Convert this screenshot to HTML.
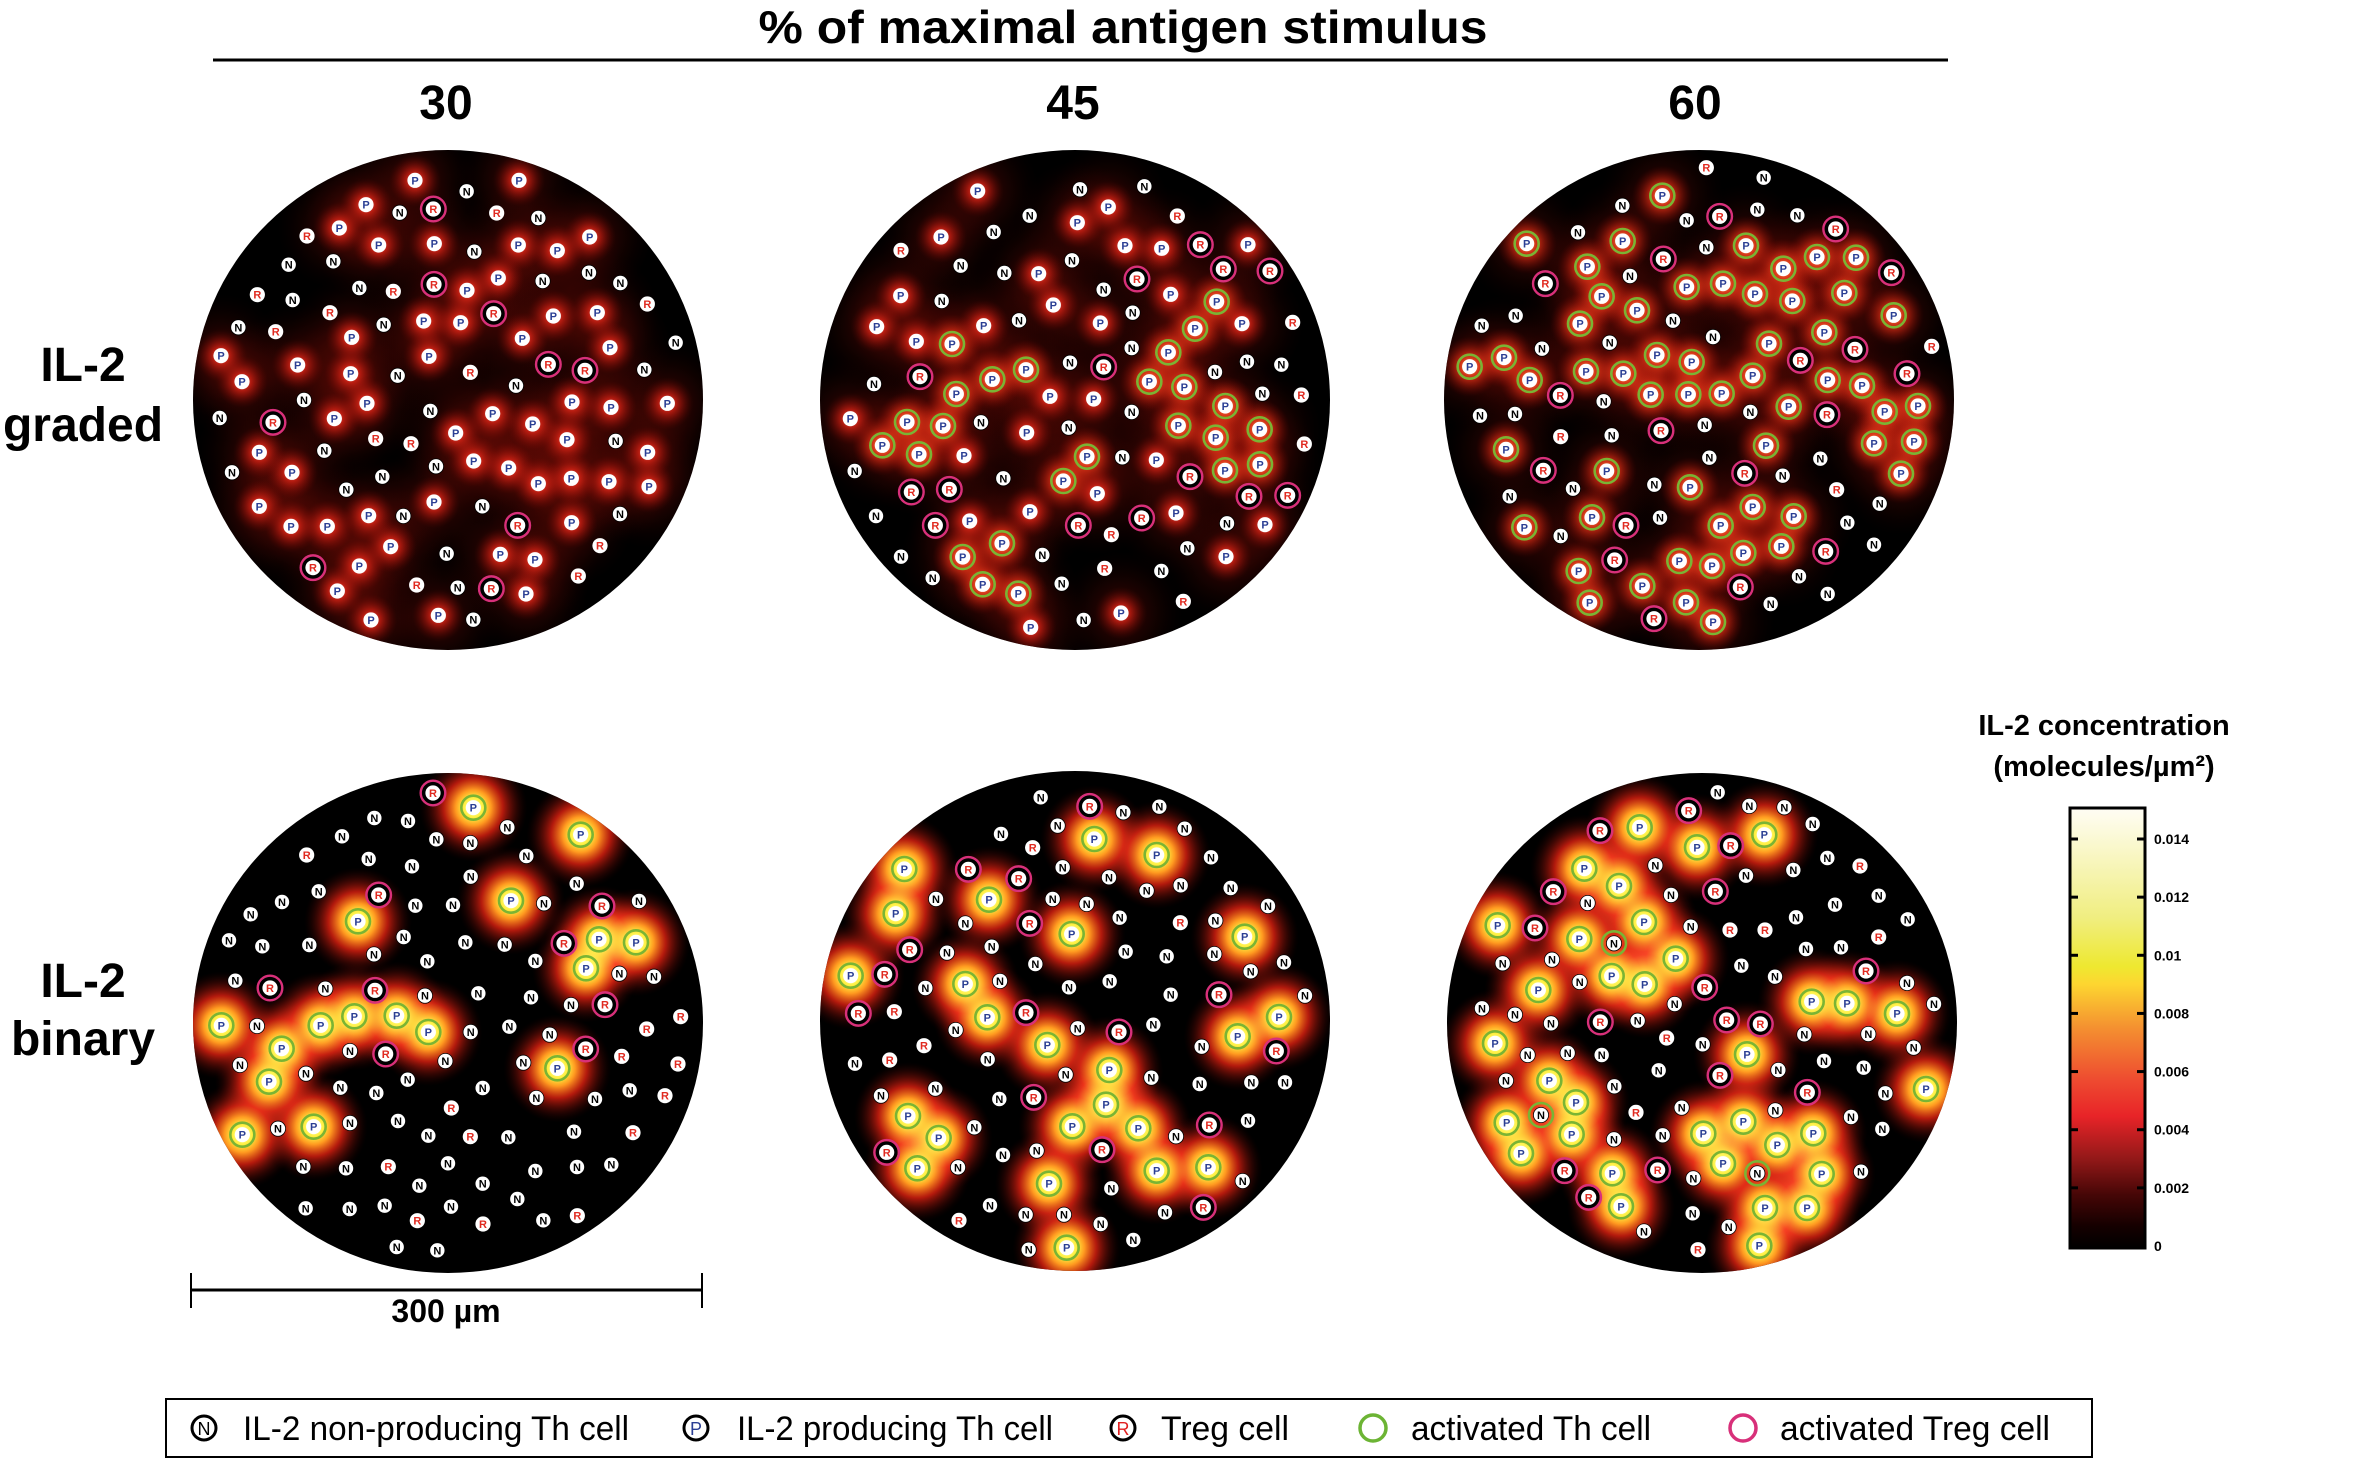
<!DOCTYPE html>
<html><head><meta charset="utf-8"><style>
html,body{margin:0;padding:0;background:#fff;}
svg{display:block;}
text{font-family:"Liberation Sans",Arial,sans-serif;}
.glow{mix-blend-mode:screen;}
</style></head><body>
<svg id="fig" xmlns="http://www.w3.org/2000/svg" width="2355" height="1459" viewBox="0 0 2355 1459">
<defs>
 <radialGradient id="gG"><stop offset="0" stop-color="#ff8070" stop-opacity="1"/><stop offset="0.35" stop-color="#d01c12" stop-opacity="0.7"/><stop offset="1" stop-color="#400000" stop-opacity="0"/></radialGradient>
 <radialGradient id="gB"><stop offset="0" stop-color="#800e06" stop-opacity="0.55"/><stop offset="1" stop-color="#200000" stop-opacity="0"/></radialGradient>
 <radialGradient id="gA"><stop offset="0" stop-color="#ffa050"/><stop offset="0.35" stop-color="#e82e14" stop-opacity="0.8"/><stop offset="1" stop-color="#500000" stop-opacity="0"/></radialGradient>
 <radialGradient id="gY"><stop offset="0" stop-color="#ffffc0"/><stop offset="0.18" stop-color="#fff040"/><stop offset="0.33" stop-color="#ff9a20"/><stop offset="0.55" stop-color="#e02010" stop-opacity="0.8"/><stop offset="1" stop-color="#300000" stop-opacity="0"/></radialGradient>
 <linearGradient id="cbar" x1="0" y1="0" x2="0" y2="1">
  <stop offset="0" stop-color="#fffdf5"/><stop offset="0.25" stop-color="#f0ee80"/><stop offset="0.36" stop-color="#eee830"/><stop offset="0.4" stop-color="#fdd630"/><stop offset="0.5" stop-color="#f49030"/><stop offset="0.62" stop-color="#ee4a30"/><stop offset="0.7" stop-color="#e82428"/><stop offset="0.8" stop-color="#901818"/><stop offset="0.88" stop-color="#450606"/><stop offset="0.95" stop-color="#150000"/><stop offset="1" stop-color="#000"/>
 </linearGradient>
</defs>
<text x="1123" y="43" font-size="46" font-weight="bold" text-anchor="middle" textLength="729" lengthAdjust="spacingAndGlyphs">% of maximal antigen stimulus</text>
<line x1="213" y1="60" x2="1948" y2="60" stroke="#000" stroke-width="3"/>
<text x="446" y="119" font-size="48" font-weight="bold" text-anchor="middle">30</text>
<text x="1073" y="119" font-size="48" font-weight="bold" text-anchor="middle">45</text>
<text x="1695" y="119" font-size="48" font-weight="bold" text-anchor="middle">60</text>
<text font-size="48" font-weight="bold" text-anchor="middle"><tspan x="83" y="381">IL-2</tspan><tspan x="83" y="441">graded</tspan></text>
<text font-size="48" font-weight="bold" text-anchor="middle"><tspan x="83" y="997">IL-2</tspan><tspan x="83" y="1055">binary</tspan></text>
<g id="panels"></g>
<g>
 <line x1="191" y1="1290" x2="702" y2="1290" stroke="#000" stroke-width="3"/>
 <line x1="191" y1="1273" x2="191" y2="1308" stroke="#000" stroke-width="2"/>
 <line x1="702" y1="1273" x2="702" y2="1308" stroke="#000" stroke-width="2"/>
 <text x="446" y="1322" font-size="32" font-weight="bold" text-anchor="middle">300 µm</text>
</g>
<g>
 <text font-size="29" font-weight="bold" text-anchor="middle"><tspan x="2104" y="735">IL-2 concentration</tspan><tspan x="2104" y="776">(molecules/µm²)</tspan></text>
 <rect x="2070" y="808" width="75" height="440" fill="url(#cbar)" stroke="#000" stroke-width="3"/>
 <g id="cbticks"></g>
</g>
<g>
 <rect x="166" y="1399" width="1926" height="58" fill="#fff" stroke="#000" stroke-width="2"/>
 <g><circle cx="204" cy="1428" r="12" fill="#fff" stroke="#000" stroke-width="3"/><text x="204" y="1435" font-size="18" text-anchor="middle">N</text><text x="243" y="1440" font-size="34" textLength="386" lengthAdjust="spacingAndGlyphs">IL-2 non-producing Th cell</text></g>
 <g><circle cx="696" cy="1428" r="12" fill="#fff" stroke="#000" stroke-width="3"/><text x="696" y="1435" font-size="18" fill="#2b3f94" text-anchor="middle">P</text><text x="737" y="1440" font-size="34" textLength="316" lengthAdjust="spacingAndGlyphs">IL-2 producing Th cell</text></g>
 <g><circle cx="1123" cy="1428" r="12" fill="#fff" stroke="#000" stroke-width="3"/><text x="1123" y="1435" font-size="18" fill="#e02020" text-anchor="middle">R</text><text x="1161" y="1440" font-size="34" textLength="128" lengthAdjust="spacingAndGlyphs">Treg cell</text></g>
 <g><circle cx="1373" cy="1428" r="13" fill="none" stroke="#6cb434" stroke-width="3.5"/><text x="1411" y="1440" font-size="34" textLength="240" lengthAdjust="spacingAndGlyphs">activated Th cell</text></g>
 <g><circle cx="1743" cy="1428" r="13" fill="none" stroke="#d8307a" stroke-width="3.5"/><text x="1780" y="1440" font-size="34" textLength="270" lengthAdjust="spacingAndGlyphs">activated Treg cell</text></g>
</g>
</svg>
<script>
// Colorbar tick values
const cbTicks = [0, 0.002, 0.004, 0.006, 0.008, 0.01, 0.012, 0.014];
const cbTickLabels = ["0","0.002","0.004","0.006","0.008","0.01","0.012","0.014"];
// Cells per panel: type x y (zoom units). N=non-producing, P=producing, R=Treg, A=activated Th (P), T=activated Treg, M=activated N
const cellsGraded30 = "P 660 100;P 972 100;N 815 133;P 513 173;N 614 197;T 715 186;R 905 198;N 1030 213;R 336 267;P 433 243;P 551 294;P 718 290;N 838 314;P 970 294;P 1087 311;P 1184 270;N 281 353;N 415 343;N 493 423;R 595 433;T 717 412;P 816 430;P 910 393;N 1043 402;N 1182 377;N 1276 408;R 187 443;N 293 459;R 405 497;N 566 533;P 686 522;P 797 527;T 896 500;P 1075 507;P 1207 497;R 1357 471;N 130 541;R 242 554;P 470 571;P 982 574;P 1245 602;N 1442 587;P 78 626;P 308 654;P 467 680;N 608 686;P 702 628;R 826 676;T 1060 652;T 1170 670;N 963 716;N 1348 668;P 141 704;N 327 759;P 516 769;N 706 792;P 893 800;P 1131 765;P 1248 781;P 1417 769;N 74 813;T 234 826;P 418 815;R 542 875;R 648 890;P 782 858;P 1013 831;P 1116 878;N 1262 882;P 1358 916;P 193 916;N 388 911;N 111 976;P 291 976;N 723 958;N 562 989;N 454 1028;P 836 942;P 941 963;P 1030 1010;P 1129 994;P 1242 1004;P 1362 1019;P 193 1078;P 717 1065;N 862 1078;P 521 1106;N 625 1107;T 968 1135;P 1130 1127;N 1275 1101;P 288 1138;P 397 1138;P 587 1199;N 755 1220;P 916 1222;P 1020 1238;R 1215 1196;T 354 1262;P 493 1257;P 427 1332;R 665 1314;N 788 1322;T 889 1325;P 993 1341;R 1150 1287;P 528 1419;P 730 1405;N 835 1418";
const cellsGraded45 = "P 503 132;N 810 127;N 1003 118;N 659 206;P 802 227;P 895 180;R 1102 207;N 551 255;P 393 270;R 273 310;P 945 296;P 1055 304;T 1171 293;P 1314 293;N 452 356;N 583 378;P 686 380;N 786 340;T 981 396;T 1240 366;T 1380 372;P 272 446;N 395 462;P 730 474;N 881 428;P 1082 442;A 1220 464;N 968 497;P 200 539;P 521 536;N 627 520;P 871 528;A 1155 545;P 1296 530;R 1448 526;P 319 583;A 426 591;N 965 603;A 1075 616;N 780 647;T 881 660;N 1311 644;N 1414 653;N 1215 675;N 192 711;T 330 689;A 547 697;A 648 668;A 439 741;P 720 748;P 851 756;A 1018 704;A 1123 720;N 1357 740;R 1474 744;P 121 815;A 291 825;A 399 837;N 513 826;P 650 857;N 776 842;N 965 795;A 1246 777;A 1105 836;A 1217 872;A 1349 847;R 1483 891;A 217 895;A 327 922;P 462 926;A 831 929;N 937 931;P 1039 939;T 1140 989;A 1245 970;A 1350 952;N 134 972;N 580 994;A 760 1002;P 862 1040;T 304 1035;T 418 1027;T 1317 1048;T 1433 1045;N 198 1107;T 376 1135;P 479 1122;P 660 1094;T 805 1135;T 995 1113;P 1098 1098;R 904 1163;N 1251 1129;P 1365 1133;A 576 1189;A 458 1230;N 697 1224;N 1132 1204;P 1248 1229;N 273 1229;N 368 1293;A 518 1312;A 625 1340;N 755 1310;R 884 1264;N 1054 1272;R 1120 1363;P 933 1398;N 821 1419;P 662 1441";
const cellsGraded60 = "R 826 62;N 998 92;A 694 146;N 574 176;N 767 220;T 866 208;N 979 188;N 1099 205;T 1214 246;N 441 256;A 287 290;A 575 282;T 697 336;N 826 301;A 945 296;A 1158 330;A 1275 332;A 1057 365;T 1381 377;A 469 359;N 597 387;T 343 410;A 512 448;A 618 490;A 767 420;A 876 410;A 972 441;A 1084 462;A 1240 438;A 1388 505;N 152 536;N 254 506;A 447 530;N 726 521;N 846 570;A 1014 590;A 1180 556;T 1272 607;R 1502 598;A 116 659;A 219 632;N 333 605;N 536 587;A 678 624;A 782 645;T 1108 640;T 1428 680;A 296 699;A 465 673;A 577 680;A 659 743;A 772 742;A 872 740;A 965 686;A 1190 699;A 1293 716;T 388 745;N 518 763;N 147 806;N 252 801;N 958 795;A 1073 779;T 1188 803;A 1361 794;A 1461 777;T 690 851;N 821 834;R 389 869;N 542 865;A 225 907;A 1005 896;A 1329 889;A 1449 884;T 337 970;A 527 972;N 835 932;N 1168 935;T 941 979;N 1055 986;A 1410 980;N 236 1048;N 426 1025;N 670 1013;A 777 1021;R 1217 1028;N 1346 1070;A 483 1111;T 585 1135;N 687 1112;A 869 1136;A 965 1080;A 1088 1108;N 1249 1127;A 280 1141;N 389 1167;A 937 1218;A 1051 1198;T 1184 1213;N 1329 1193;T 551 1239;A 745 1242;A 843 1257;A 443 1272;N 1104 1288;A 634 1317;T 928 1320;N 1190 1341;N 1019 1371;A 476 1367;A 765 1366;T 669 1415;A 846 1425";
const cellsBinary30 = "T 717 72;A 838 116;N 541 147;N 642 156;N 940 175;A 1160 197;N 444 202;N 727 211;N 829 222;R 338 258;N 524 270;N 654 292;N 997 261;N 830 323;N 1148 344;N 374 367;T 554 378;N 264 399;N 170 436;N 664 410;N 777 408;A 951 395;N 1050 403;T 1224 411;N 1335 396;A 492 457;N 105 514;N 205 532;N 346 528;N 629 504;N 540 556;N 814 520;N 932 527;T 1110 523;A 1215 511;A 1326 520;N 700 577;N 1024 576;A 1176 598;N 1276 614;N 1380 623;N 124 635;T 228 657;N 394 659;T 543 664;N 693 680;N 853 673;N 1011 685;N 1131 708;T 1233 707;R 1460 743;A 82 769;N 189 771;A 380 769;A 481 742;A 608 740;A 703 789;N 830 789;N 946 773;N 1067 797;R 1358 780;A 263 839;N 468 846;T 575 855;N 754 876;N 988 881;A 1090 898;T 1175 840;R 1283 862;R 1452 885;N 138 888;A 225 938;N 336 914;N 439 956;N 547 972;N 641 932;N 866 957;N 1027 987;N 1203 990;N 1307 964;R 1413 980;R 772 1017;A 145 1097;N 252 1079;A 359 1073;N 468 1062;N 612 1056;N 703 1100;R 829 1103;N 943 1105;N 1140 1088;R 1317 1091;N 328 1193;N 456 1198;R 583 1193;N 762 1183;N 676 1250;N 866 1244;N 1024 1206;N 1149 1194;N 1252 1187;N 335 1318;N 467 1320;N 572 1310;N 771 1313;R 670 1355;R 867 1365;N 970 1290;N 1048 1354;R 1150 1340;N 608 1434;N 730 1444";
const cellsBinary45 = "N 692 85;T 839 112;N 940 130;N 1048 113;N 743 170;A 853 210;N 1124 179;N 573 195;R 668 236;A 1040 258;N 1203 265;A 283 300;T 475 301;T 626 329;N 758 295;N 897 325;N 1010 365;N 1112 349;N 1262 357;N 1374 411;N 378 390;A 537 392;N 728 390;N 830 405;N 466 463;T 659 463;A 785 495;N 929 446;R 1111 461;N 1216 455;A 257 434;A 1304 503;T 299 542;N 411 551;N 545 533;N 676 585;N 947 548;N 1070 562;N 1213 555;N 1322 607;N 1422 580;A 122 620;T 224 616;N 346 657;A 466 645;N 570 636;N 777 655;N 899 637;N 1082 677;T 1227 677;N 1485 680;T 145 733;R 253 728;A 532 745;T 648 731;N 437 783;N 803 778;T 927 789;N 1030 767;A 1407 744;A 1283 802;T 1399 846;R 342 830;A 712 828;N 1175 833;N 135 884;R 239 873;N 533 871;N 767 917;A 898 903;N 1024 926;N 1169 945;N 1324 940;N 1425 940;N 213 980;N 376 959;N 568 990;T 671 985;A 888 1007;A 294 1041;A 386 1107;N 493 1075;A 787 1072;A 985 1078;T 1198 1068;N 1098 1102;N 1314 1055;T 230 1150;A 322 1198;N 444 1195;N 579 1158;N 680 1145;T 876 1142;A 1040 1205;A 1195 1195;N 1298 1236;A 717 1244;N 904 1258;N 540 1309;R 447 1354;N 647 1337;N 762 1337;N 872 1365;N 1065 1330;T 1180 1315;N 970 1413;N 656 1442;A 770 1436";
const cellsBinary60 = "N 785 25;N 880 66;N 985 70;N 1070 120;T 698 80;T 432 140;A 551 130;A 723 190;T 824 185;A 925 152;N 598 244;N 870 275;N 1012 258;N 1114 222;R 1212 246;A 385 254;A 489 306;T 292 323;N 395 357;N 645 333;T 778 322;N 1137 362;N 1268 335;N 1020 400;N 1355 406;A 125 424;T 237 432;A 370 465;M 474 478;A 564 414;N 704 428;R 822 438;R 927 438;N 1050 495;N 1155 490;R 1268 459;N 140 538;N 288 527;A 659 524;A 247 618;N 371 594;A 467 576;A 566 601;N 856 545;N 957 578;T 1230 561;N 1353 597;T 746 610;N 656 660;A 1067 653;A 1173 658;A 1323 689;N 1434 660;N 78 673;N 177 692;N 285 718;T 433 714;N 545 710;T 812 708;T 913 720;R 632 762;N 740 781;N 1045 751;N 1237 750;N 1373 791;A 117 778;N 215 813;N 335 807;N 437 813;A 873 811;N 608 859;T 792 874;N 967 858;N 1104 831;N 1223 851;N 150 890;A 280 890;A 360 955;N 475 907;T 1054 925;N 1288 928;A 1410 915;M 255 993;A 152 1016;A 347 1051;R 540 985;N 677 971;N 958 979;N 1185 999;N 1279 1035;A 195 1108;N 474 1066;N 620 1054;A 742 1049;A 862 1013;A 964 1083;A 1072 1048;T 326 1160;A 469 1168;T 605 1158;A 801 1139;M 904 1168;A 1097 1170;N 712 1183;N 1215 1163;T 398 1240;A 495 1267;N 710 1288;A 927 1272;A 1053 1272;N 564 1342;N 818 1329;R 726 1397;A 910 1385";

const NS = "http://www.w3.org/2000/svg";
function mk(tag, attrs, parent){ const e=document.createElementNS(NS,tag); for(const k in attrs) e.setAttribute(k,attrs[k]); if(parent) parent.appendChild(e); return e; }

const panels = [
 {name:"panel-graded-30", cells:cellsGraded30, zx:195, zy:147, cx:448, cy:400, mode:"graded"},
 {name:"panel-graded-45", cells:cellsGraded45, zx:810, zy:147, cx:1075, cy:400, mode:"graded"},
 {name:"panel-graded-60", cells:cellsGraded60, zx:1431, zy:147, cx:1699, cy:400, mode:"graded"},
 {name:"panel-binary-30", cells:cellsBinary30, zx:194, zy:769, cx:448, cy:1023, mode:"binary"},
 {name:"panel-binary-45", cells:cellsBinary45, zx:810, zy:769, cx:1075, cy:1021, mode:"binary"},
 {name:"panel-binary-60", cells:cellsBinary60, zx:1456, zy:784, cx:1702, cy:1023, mode:"binary"}
];
const RX=255, RY=250;
const root=document.getElementById('panels');
const defs=document.querySelector('defs');
panels.forEach((p,i)=>{
 const cp=mk('clipPath',{id:'clip'+i},defs);
 mk('ellipse',{cx:p.cx,cy:p.cy,rx:RX,ry:RY},cp);
 const g=mk('g',{},root);
 
 
 mk('ellipse',{cx:p.cx,cy:p.cy,rx:RX,ry:RY,fill:'#000'},g);
 const cells=p.cells.split(';').map(s=>{const a=s.trim().split(' ');return {t:a[0],x:p.zx+(+a[1])/3,y:p.zy+(+a[2])/3};});
 const glow=mk('g',{'clip-path':'url(#clip'+i+')',style:'isolation:isolate'},g);
 cells.forEach(c=>{
  if(p.mode==='graded'){
   if(c.t==='P'||c.t==='A'){
    const b=mk('circle',{cx:c.x,cy:c.y,r:62,fill:'url(#gB)',class:'glow'},glow);
    
    
    const h=mk('circle',{cx:c.x,cy:c.y,r:c.t==='A'?30:26,fill:c.t==='A'?'url(#gA)':'url(#gG)',class:'glow'},glow);
    
    
   }
  } else if(c.t==='A'){
   const h=mk('circle',{cx:c.x,cy:c.y,r:54,fill:'url(#gY)',class:'glow'},glow);
   
   
  }
 });
 cells.forEach(c=>{
  const cg=mk('g',{},g);
  
  
  if(c.t==='A'||c.t==='M') mk('circle',{cx:c.x,cy:c.y,r:12,fill:'none',stroke:'#7ab434','stroke-width':2.6},cg);
  if(c.t==='T'){ mk('circle',{cx:c.x,cy:c.y,r:11,fill:'#000'},cg); mk('circle',{cx:c.x,cy:c.y,r:12.3,fill:'none',stroke:'#d8307a','stroke-width':2.4},cg); }
  const letter = (c.t==='A')?'P':(c.t==='T')?'R':(c.t==='M')?'N':c.t;
  const col = letter==='N'?'#000':letter==='P'?'#2b3f94':'#e02a20';
  mk('circle',{cx:c.x,cy:c.y,r:7.6,fill:'#fff',stroke:letter==='N'?'#000':'none','stroke-width':0.8},cg);
  const t=mk('text',{x:c.x,y:c.y+4,'font-size':11,'font-weight':'bold','text-anchor':'middle',fill:col},cg);
  t.textContent=letter;
 });
});
// colorbar ticks
const cb=document.getElementById('cbticks');
const cbY=v=>1246-(v/0.014)*(1246-839);
cbTicks.forEach((v,i)=>{
 const y=cbY(v);
 if(i>0){
  const l1=mk('line',{x1:2070,y1:y,x2:2078,y2:y,stroke:'#000','stroke-width':3},cb);
  
  
  const l2=mk('line',{x1:2137,y1:y,x2:2145,y2:y,stroke:'#000','stroke-width':3},cb);
  
  
 }
 const t=mk('text',{x:2154,y:y+5,'font-size':14,'font-weight':'bold'},cb);
 
 
 t.textContent=cbTickLabels[i];
});
</script>
</body></html>
